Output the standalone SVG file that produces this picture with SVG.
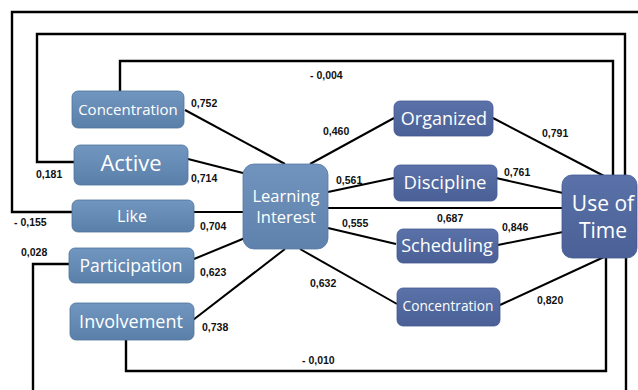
<svg xmlns="http://www.w3.org/2000/svg" width="638" height="390" viewBox="0 0 638 390">
<defs>
<linearGradient id="gL" x1="0" y1="0" x2="0" y2="1">
<stop offset="0" stop-color="#7196c0"/>
<stop offset="1" stop-color="#5a7fa9"/>
</linearGradient>
<linearGradient id="gR" x1="0" y1="0" x2="0" y2="1">
<stop offset="0" stop-color="#5a72a9"/>
<stop offset="1" stop-color="#4a6096"/>
</linearGradient>
<linearGradient id="gC" x1="0" y1="0" x2="0" y2="1">
<stop offset="0" stop-color="#7094bd"/>
<stop offset="1" stop-color="#5e82ac"/>
</linearGradient>
</defs>
<style>
.nl{fill:url(#gL);stroke:#4f7399;stroke-width:0.8}
.nr{fill:url(#gR);stroke:#435892;stroke-width:0.8}
.t{font-family:"Open Sans","Liberation Sans",sans-serif;fill:#ffffff;text-anchor:middle}
.lb{font-family:"Liberation Sans",Arial,sans-serif;font-weight:bold;font-size:10.5px;fill:#111111}
.c{fill:none;stroke:#000000;stroke-width:2}
.o{fill:none;stroke:#000000;stroke-width:2.4}
</style>
<g id="connectors">
<path class="o" d="M72,212 H12 V12 H638"/>
<path class="o" d="M74,162 H37 V34 H625 V178"/>
<path class="o" d="M120,91 V61 H613 V176"/>
<path class="o" d="M126,340 V371 H606 V257"/>
<path class="o" d="M69,264 H33 V390"/>
<path class="o" d="M626,257 V390"/>
<line class="c" x1="185" y1="110" x2="285" y2="164"/>
<line class="c" x1="188" y1="159" x2="243" y2="173"/>
<line class="c" x1="194" y1="212" x2="243" y2="212"/>
<line class="c" x1="194" y1="259" x2="245" y2="238"/>
<line class="c" x1="193" y1="320" x2="285" y2="249"/>
<line class="c" x1="310" y1="164" x2="394" y2="118"/>
<line class="c" x1="328" y1="192" x2="394" y2="178"/>
<line class="c" x1="328" y1="208" x2="562" y2="208"/>
<line class="c" x1="328" y1="228" x2="396" y2="244"/>
<line class="c" x1="300" y1="249" x2="397" y2="304"/>
<line class="c" x1="493" y1="118" x2="604" y2="176"/>
<line class="c" x1="496" y1="178" x2="563" y2="193"/>
<line class="c" x1="498" y1="245" x2="563" y2="232"/>
<line class="c" x1="500" y1="305" x2="604" y2="257"/>
</g>
<g id="labels">
<text class="lb" x="191" y="107">0,752</text>
<text class="lb" x="310" y="79">- 0,004</text>
<text class="lb" x="323" y="135">0,460</text>
<text class="lb" x="542" y="137">0,791</text>
<text class="lb" x="336" y="184">0,561</text>
<text class="lb" x="504" y="176">0,761</text>
<text class="lb" x="437" y="222">0,687</text>
<text class="lb" x="342" y="227">0,555</text>
<text class="lb" x="502" y="231">0,846</text>
<text class="lb" x="36" y="178">0,181</text>
<text class="lb" x="191" y="182">0,714</text>
<text class="lb" x="14" y="226">- 0,155</text>
<text class="lb" x="200" y="230">0,704</text>
<text class="lb" x="21" y="256">0,028</text>
<text class="lb" x="200" y="276">0,623</text>
<text class="lb" x="202" y="331">0,738</text>
<text class="lb" x="310" y="287">0,632</text>
<text class="lb" x="302" y="364">- 0,010</text>
<text class="lb" x="537" y="304">0,820</text>
</g>
<g id="concentration-left">
<rect class="nl" x="72" y="91" width="112" height="37" rx="6"/>
<text class="t" x="128" y="115" font-size="15">Concentration</text>
</g>
<g id="active">
<rect class="nl" x="74" y="145" width="114" height="40" rx="6"/>
<text class="t" x="131" y="171" font-size="22">Active</text>
</g>
<g id="like">
<rect class="nl" x="72" y="200" width="122" height="32" rx="6"/>
<text class="t" x="132" y="222" font-size="16">Like</text>
</g>
<g id="participation">
<rect class="nl" x="69" y="248" width="125" height="35" rx="6"/>
<text class="t" x="131" y="272" font-size="17.5">Participation</text>
</g>
<g id="involvement">
<rect class="nl" x="70" y="303" width="124" height="37" rx="6"/>
<text class="t" x="131" y="328" font-size="18">Involvement</text>
</g>
<g id="learning-interest">
<rect x="243" y="164" width="85" height="85" rx="11" fill="url(#gC)" stroke="#5579a2" stroke-width="0.8"/>
<text class="t" x="286" y="202" font-size="16.5">Learning</text>
<text class="t" x="286" y="223" font-size="16.5">Interest</text>
</g>
<g id="organized">
<rect class="nr" x="394" y="101" width="99" height="35" rx="6"/>
<text class="t" x="444" y="125" font-size="18">Organized</text>
</g>
<g id="discipline">
<rect class="nr" x="394" y="165" width="103" height="36" rx="6"/>
<text class="t" x="445" y="189" font-size="18.5">Discipline</text>
</g>
<g id="scheduling">
<rect class="nr" x="397" y="229" width="101" height="34" rx="6"/>
<text class="t" x="447" y="252" font-size="18">Scheduling</text>
</g>
<g id="concentration-right">
<rect class="nr" x="397" y="288" width="103" height="38" rx="6"/>
<text class="t" x="448" y="311" font-size="13.7">Concentration</text>
</g>
<g id="use-of-time">
<rect class="nr" x="562" y="175" width="75" height="83" rx="10"/>
<text class="t" x="603" y="211" font-size="21">Use of</text>
<text class="t" x="603" y="238" font-size="21">Time</text>
</g>
</svg>
